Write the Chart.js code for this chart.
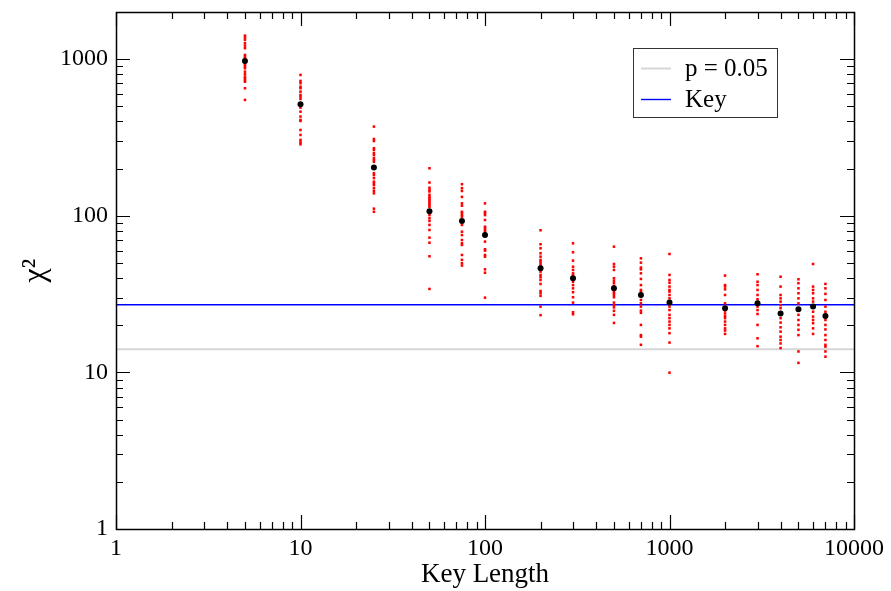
<!DOCTYPE html>
<html>
<head>
<meta charset="utf-8">
<script src="https://cdn.jsdelivr.net/npm/chart.js@4"></script>
<style>
html, body { margin: 0; padding: 0; background: #fff; }
#wrap { width: 891px; height: 591px; }
</style>
</head>
<body>
<div id="wrap"><canvas id="chi2Chart"></canvas></div>
<script>
// key lengths tested and the mean chi^2 over all runs
const keyLengths = [5, 10, 25, 50, 75, 100, 200, 300, 500, 700, 1000, 2000, 3000, 4000, 5000, 6000, 7000];
const meanChi2 = [973, 515, 203, 107, 92.7, 75.4, 46.2, 39.9, 34.4, 31.2, 27.9, 25.7, 27.6, 23.8, 25.3, 26.3, 22.9];

// individual runs (red)
const runs5 = [1413, 1372, 1327, 1263, 1220, 1175, 1064, 1037, 1013, 988, 964, 942, 919, 896, 875, 832, 801, 773, 755, 736, 718, 652, 549];
const runs10 = [793, 726, 702, 667, 652, 620, 591, 576, 557, 515, 490, 462, 430, 409, 403, 353, 328, 305, 295, 286];
const runs25 = [371, 309, 300, 270, 263, 251, 244, 233, 227, 221, 203, 187, 182, 174, 165, 161, 157, 150, 144, 139, 111, 106];
const runs50 = [201, 163, 151, 146, 143, 136, 132, 129, 126, 123, 120, 117, 114, 107, 104, 101, 96.4, 92.7, 87.4, 81.1, 72.5, 67.3, 55.1, 34.1];
const runs75 = [159, 150, 144, 132, 120, 116, 106, 104, 101, 98.7, 92.7, 87.4, 79.1, 75.3, 70.0, 66.7, 65.1, 56.2, 52.3, 49.8, 48.1];
const runs100 = [120, 106, 104, 101, 94.0, 85.2, 83.2, 81.1, 79.1, 75.4, 68.4, 61.1, 59.9, 56.2, 54.8, 45.5, 43.3, 30.0];
const runs200 = [80.8, 65.8, 62.0, 57.6, 54.8, 52.2, 50.9, 49.2, 47.8, 46.2, 44.0, 41.9, 40.5, 38.9, 36.7, 33.1, 32.0, 30.8, 26.3, 23.2];
const runs300 = [66.7, 58.5, 51.7, 47.3, 45.1, 42.9, 41.9, 39.9, 37.9, 36.1, 34.4, 32.5, 30.2, 27.9, 24.2, 23.5];
const runs500 = [63.5, 49.2, 47.3, 45.1, 39.9, 38.5, 37.1, 35.6, 34.4, 32.8, 32.0, 31.2, 30.2, 27.9, 26.9, 26.0, 24.7, 23.3, 20.7];
const runs700 = [53.5, 50.2, 46.7, 45.5, 42.9, 39.5, 36.1, 33.6, 32.8, 31.2, 29.0, 27.6, 26.3, 24.8, 24.0, 20.1, 17.3, 16.9, 15.0];
const runs1000 = [57.0, 41.9, 38.9, 37.4, 35.3, 33.6, 32.8, 31.2, 29.7, 27.9, 26.3, 25.0, 23.3, 22.2, 21.1, 20.1, 19.1, 17.8, 15.5, 9.96];
const runs2000 = [41.5, 36.1, 35.3, 33.9, 31.2, 27.6, 25.7, 24.8, 23.8, 22.9, 22.2, 21.1, 20.1, 19.1, 18.5, 17.6];
const runs3000 = [42.3, 37.9, 36.1, 33.6, 31.2, 29.3, 27.6, 26.3, 25.0, 23.6, 20.1, 16.5, 14.7];
const runs4000 = [40.8, 35.3, 31.2, 29.7, 28.3, 26.9, 25.7, 23.8, 22.2, 20.8, 19.4, 18.2, 16.9, 16.1, 15.3, 14.3];
const runs5000 = [39.3, 37.1, 34.4, 32.0, 29.7, 27.6, 25.3, 23.3, 21.6, 20.1, 18.7, 17.3, 13.6, 11.5];
const runs6000 = [49.2, 35.3, 33.6, 32.0, 29.7, 28.3, 26.3, 24.4, 22.7, 21.6, 20.6, 19.1, 17.6];
const runs7000 = [36.7, 34.4, 31.7, 29.0, 26.3, 24.4, 22.9, 21.6, 20.1, 18.8, 17.3, 16.1, 15.0, 14.6, 13.6, 12.6];
const allRuns = [runs5, runs10, runs25, runs50, runs75, runs100, runs200, runs300, runs500, runs700,
    runs1000, runs2000, runs3000, runs4000, runs5000, runs6000, runs7000];

// reference lines
const pCritical = 14.07;
const keyChi2 = 27;
const xRange = [1, 10000];
const yRange = [1, 2000];

const serif = '"Liberation Serif", "DejaVu Serif", serif';

const runPoints = [];
allRuns.forEach((vals, i) => vals.forEach(v => runPoints.push({ x: keyLengths[i], y: v })));
const meanPoints = keyLengths.map((k, i) => ({ x: k, y: meanChi2[i] }));

// log ticks at 1..9 x 10^n, drawn inward on all four sides
function logTicks(scale) {
    const out = [];
    for (let d = Math.floor(Math.log10(scale.min)); Math.pow(10, d) <= scale.max; d++) {
        for (let m = 1; m < 10; m++) {
            const v = m * Math.pow(10, d);
            if (v >= scale.min && v <= scale.max) out.push({ v, major: m === 1 });
        }
    }
    return out;
}

const framePlugin = {
    id: 'frame',
    afterDatasetsDraw(chart) {
        const { ctx, chartArea: a, scales: { x, y } } = chart;
        ctx.save();
        ctx.strokeStyle = '#000';
        ctx.lineWidth = 1.2;
        ctx.beginPath();
        logTicks(x).forEach(t => {
            const px = Math.round(x.getPixelForValue(t.v)) + 0.5;
            const len = t.major ? 14 : 7;
            ctx.moveTo(px, a.bottom); ctx.lineTo(px, a.bottom - len);
            ctx.moveTo(px, a.top); ctx.lineTo(px, a.top + len);
        });
        logTicks(y).forEach(t => {
            const py = Math.round(y.getPixelForValue(t.v)) + 0.5;
            const len = t.major ? 14 : 7;
            ctx.moveTo(a.left, py); ctx.lineTo(a.left + len, py);
            ctx.moveTo(a.right, py); ctx.lineTo(a.right - len, py);
        });
        ctx.stroke();
        ctx.lineWidth = 1.5;
        ctx.strokeRect(Math.round(a.left) + 0.5, Math.round(a.top) + 0.5,
            Math.round(a.right - a.left), Math.round(a.bottom - a.top));
        ctx.restore();
    }
};

const legendPlugin = {
    id: 'boxLegend',
    afterDraw(chart) {
        const ctx = chart.ctx;
        const items = chart.data.datasets.filter(d => d.inLegend);
        const x0 = 633, y0 = 48, w = 144, h = 69;
        ctx.save();
        ctx.fillStyle = '#fff';
        ctx.fillRect(x0, y0, w, h);
        ctx.strokeStyle = '#333';
        ctx.lineWidth = 1;
        ctx.strokeRect(x0 + 0.5, y0 + 0.5, w, h);
        ctx.font = '25px ' + serif;
        ctx.textBaseline = 'middle';
        items.forEach((d, i) => {
            const cy = y0 + 20 + i * 31;
            ctx.strokeStyle = d.borderColor;
            ctx.lineWidth = d.borderWidth;
            ctx.beginPath();
            ctx.moveTo(x0 + 8, cy + 0.5);
            ctx.lineTo(x0 + 38, cy + 0.5);
            ctx.stroke();
            ctx.fillStyle = '#000';
            ctx.fillText(d.label, x0 + 52, cy + 1);
        });
        ctx.restore();
    }
};

const ctx = document.getElementById('chi2Chart').getContext('2d');
const chi2Chart = new Chart(ctx, {
    type: 'scatter',
    data: {
        datasets: [{
            label: 'mean',
            data: meanPoints,
            backgroundColor: '#000',
            borderWidth: 0,
            pointRadius: 3,
            order: 0
        }, {
            label: 'runs',
            data: runPoints,
            backgroundColor: '#ff0000',
            borderWidth: 0,
            pointStyle: 'rect',
            pointRadius: 1.8,
            order: 1
        }, {
            type: 'line',
            label: 'p = 0.05',
            inLegend: true,
            data: [{ x: xRange[0], y: pCritical }, { x: xRange[1], y: pCritical }],
            borderColor: '#d6d6d6',
            borderWidth: 2,
            pointRadius: 0,
            order: 3
        }, {
            type: 'line',
            label: 'Key',
            inLegend: true,
            data: [{ x: xRange[0], y: keyChi2 }, { x: xRange[1], y: keyChi2 }],
            borderColor: '#0000ff',
            borderWidth: 1.4,
            pointRadius: 0,
            order: 2
        }]
    },
    options: {
        responsive: true,
        maintainAspectRatio: false,
        animation: false,
        layout: { padding: { left: 0, right: 37, top: 12, bottom: 0 } },
        plugins: {
            legend: { display: false },
            tooltip: { enabled: false }
        },
        scales: {
            x: {
                type: 'logarithmic',
                min: xRange[0],
                max: xRange[1],
                grid: { display: false, drawTicks: false },
                border: { display: false },
                ticks: {
                    autoSkip: false,
                    maxRotation: 0,
                    padding: 5,
                    color: '#000',
                    font: { family: serif, size: 24 },
                    callback: v => (Number.isInteger(Math.log10(v)) ? String(v) : '')
                },
                title: {
                    display: true,
                    text: 'Key Length',
                    color: '#000',
                    font: { family: serif, size: 27 },
                    padding: { top: 0, bottom: 0 }
                },
                afterFit: s => { s.height = 62; s.paddingLeft = 0; s.paddingRight = 0; }
            },
            y: {
                type: 'logarithmic',
                min: yRange[0],
                max: yRange[1],
                grid: { display: false, drawTicks: false },
                border: { display: false },
                ticks: {
                    autoSkip: false,
                    padding: 8,
                    color: '#000',
                    font: { family: serif, size: 24 },
                    callback: v => (Number.isInteger(Math.log10(v)) ? String(v) : '')
                },
                title: {
                    display: true,
                    text: 'χ²',
                    color: '#000',
                    font: { family: serif, size: 32 },
                    padding: { top: 16, bottom: 0 }
                },
                afterFit: s => { s.width = 116; s.paddingTop = 0; s.paddingBottom = 0; }
            }
        }
    },
    plugins: [framePlugin, legendPlugin]
});
</script>
</body>
</html>
